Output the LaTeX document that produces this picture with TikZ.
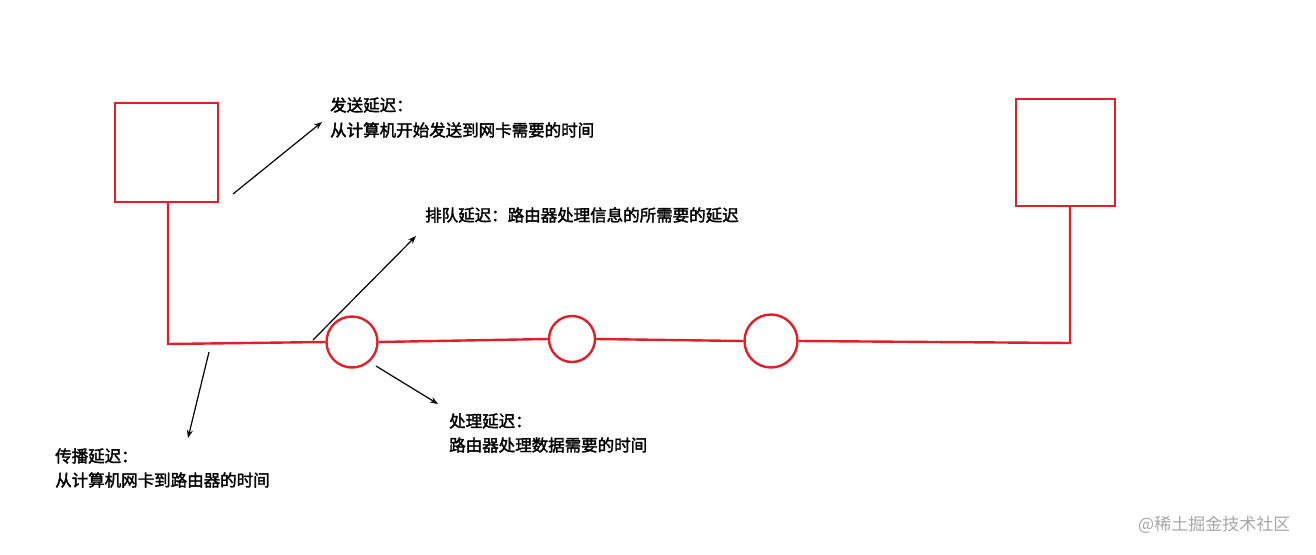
\documentclass[tikz,border=0pt]{standalone}
\usepackage{fontspec}
\setmainfont{Noto Sans CJK SC}[AutoFakeBold=2]
\usetikzlibrary{arrows.meta}
\begin{document}
\begin{tikzpicture}[x=1pt,y=-1pt,
  red/.style={draw={rgb,255:red,224;green,32;blue,40},line width=2.4pt},
  arr/.style={draw=black,line width=1.2pt,-{Stealth[length=8pt,width=6pt]}},
  lbl/.style={anchor=west,font=\fontsize{16.5}{16.5}\selectfont\bfseries,inner sep=0pt}]
\useasboundingbox (0,0) rectangle (1316,554);
\fill[white] (0,0) rectangle (1316,554);
\node[red,minimum width=103pt,minimum height=99pt,inner sep=0pt] (b1) at (166.5,152.5) {};
\node[red,minimum width=99pt,minimum height=107pt,inner sep=0pt] (b2) at (1065.5,152.5) {};
\node[red,shape=circle,minimum size=51pt,inner sep=0pt] (c1) at (352,342) {};
\node[red,shape=circle,minimum size=46pt,inner sep=0pt] (c2) at (572,339) {};
\node[red,shape=circle,minimum size=53pt,inner sep=0pt] (c3) at (771,341) {};
\coordinate (j1) at (168,344);
\coordinate (j2) at (1070,343);
\draw[red] (168,202) -- (j1) -- (c1.west);
\draw[red] (c1.east) -- (c2.west);
\draw[red] (c2.east) -- (c3.west);
\draw[red] (c3.east) -- (j2) -- (1070,206);
\coordinate (a1s) at (233,194); \coordinate (a1e) at (322,122);
\coordinate (a2s) at (313,340); \coordinate (a2e) at (416,236);
\coordinate (a3s) at (376,366); \coordinate (a3e) at (438,404);
\coordinate (a4s) at (209,352); \coordinate (a4e) at (188,438);
\draw[arr] (a1s) -- (a1e);
\draw[arr] (a2s) -- (a2e);
\draw[arr] (a3s) -- (a3e);
\draw[arr] (a4s) -- (a4e);
\node[lbl] (t1) at (330,105) {发送延迟：};
\node[lbl] (t2) at (330,130) {从计算机开始发送到网卡需要的时间};
\node[lbl] (t3) at (425,215) {排队延迟：路由器处理信息的所需要的延迟};
\node[lbl] (t4) at (449,421) {处理延迟：};
\node[lbl] (t5) at (449,445) {路由器处理数据需要的时间};
\node[lbl] (t6) at (55,456) {传播延迟：};
\node[lbl] (t7) at (55,480) {从计算机网卡到路由器的时间};
\node[anchor=west,inner sep=0pt,text=gray!70,font=\fontsize{17}{17}\selectfont] (wm) at (1138,525) {@稀土掘金技术社区};
\end{tikzpicture}
\end{document}
